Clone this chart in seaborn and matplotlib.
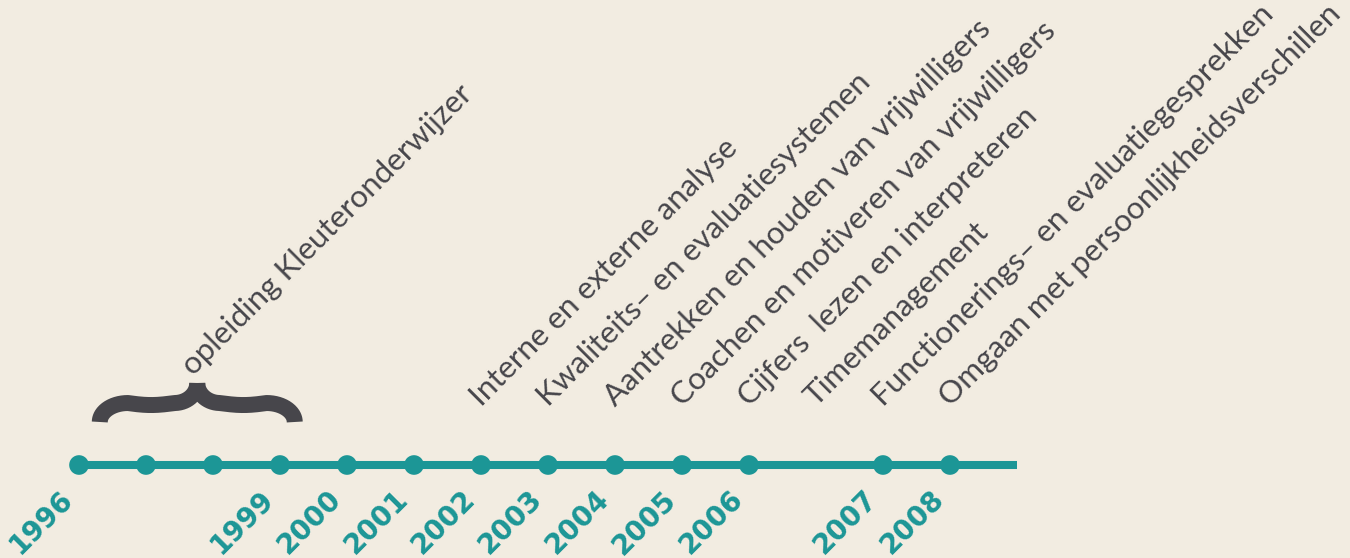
import numpy as np
import matplotlib
matplotlib.use("Agg")
import matplotlib.pyplot as plt
import seaborn as sns

# timeline dots (position units, one unit per year step)
dot_pos = [0, 1, 2, 3, 4, 5, 6, 7, 8, 9, 10, 12, 13]
year_labels = ["1996", "", "", "1999", "2000", "2001", "2002", "2003",
               "2004", "2005", "2006", "2007", "2008"]
line_end = 14

# courses, one per dot position
course_pos = [6, 7, 8, 9, 10, 11, 12, 13]
courses = ["Interne en externe analyse",
           "Kwaliteits– en evaluatiesystemen",
           "Aantrekken en houden van vrijwilligers",
           "Coachen en motiveren van vrijwilligers",
           "Cijfers  lezen en interpreteren",
           "Timemanagement",
           "Functionerings– en evaluatiegesprekken",
           "Omgaan met persoonlijkheidsverschillen"]

# study period shown with a brace
brace_start, brace_end = 0.31, 3.22
brace_label = "opleiding Kleuteronderwijzer"

bg = "#f2ece1"
teal = "#1c9696"
grey = "#47464b"

sns.set_theme(style="white")
plt.rcParams["font.family"] = ["Lato", "DejaVu Sans"]

fig = plt.figure(figsize=(13.5, 5.58), dpi=100)
fig.patch.set_facecolor(bg)
ax = fig.add_axes([0, 0, 1, 1])
ax.set_facecolor(bg)
u = 67.0  # pixels per unit
ax.set_xlim(-79 / u, (1350 - 79) / u)
ax.set_ylim(-(558 - 465) / u, 465 / u)
ax.axis("off")

# main line and dots
sns.lineplot(x=[0, line_end], y=[0, 0], ax=ax, color=teal, linewidth=5.8,
             solid_capstyle="butt")
sns.scatterplot(x=dot_pos, y=[0] * len(dot_pos), ax=ax, color=teal, s=200,
                edgecolor="none", zorder=3)

for p, lab in zip(dot_pos, year_labels):
    if lab:
        ax.text(p - 0.3, -0.3, lab, rotation=45, rotation_mode="anchor",
                ha="right", va="top", color=teal, fontsize=20,
                fontweight="bold", family=["DejaVu Sans"])

for p, lab in zip(course_pos, courses):
    ax.text(p, 0.86, lab, rotation=45, rotation_mode="anchor", ha="left",
            va="baseline", color=grey, fontsize=22.5)

# brace: two halves, each an outer hook, a plateau and an inner hook
y_bot, y_plat, y_tip = 0.642, 0.925, 1.224
rx_out, rx_in = 0.42, 0.34
t = np.linspace(0, np.pi / 2, 60)


def half_brace(a, m):
    s = 1 if m > a else -1
    x1 = a + s * rx_out * (1 - np.cos(t))
    y1 = y_bot + (y_plat - y_bot) * np.sin(t)
    x2 = np.linspace(a + s * rx_out, m - s * rx_in, 40)
    y2 = y_plat - 0.03 * np.sin(np.linspace(0, np.pi, 40))
    x3 = m - s * rx_in * (1 - np.sin(t))
    y3 = y_plat + (y_tip - y_plat) * (1 - np.cos(t))
    return np.concatenate([x1, x2, x3]), np.concatenate([y1, y2, y3])


brace_mid = (brace_start + brace_end) / 2
for a in (brace_start, brace_end):
    xs, ys = half_brace(a, brace_mid)
    ax.plot(xs, ys, color=grey, linewidth=11.5, solid_capstyle="butt")

ax.text(brace_mid - 0.05, 1.32, brace_label, rotation=45,
        rotation_mode="anchor", ha="left", va="baseline", color=grey,
        fontsize=22.5)

fig.savefig("out.png", dpi=100, facecolor=bg)
